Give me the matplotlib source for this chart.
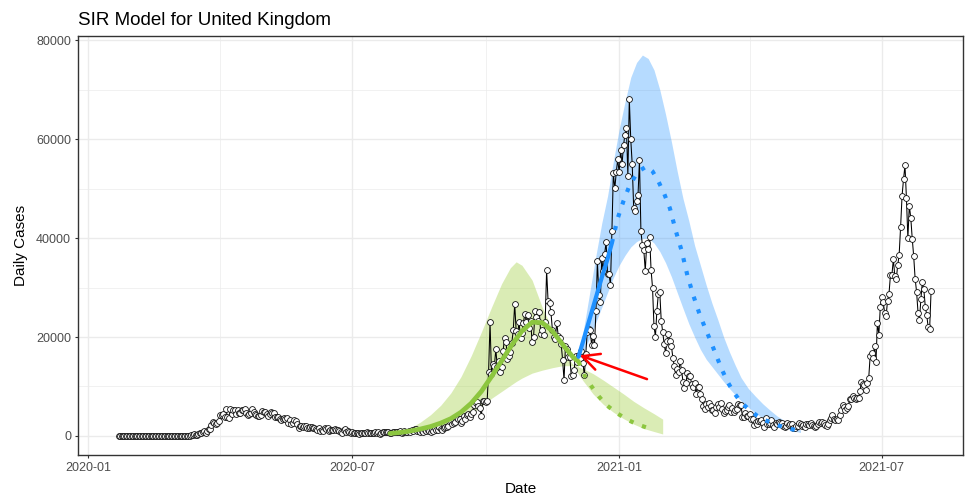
import numpy as np
import pandas as pd
import matplotlib
matplotlib.use("Agg")
import matplotlib.pyplot as plt
import matplotlib.dates as mdates

plt.rcParams['font.family'] = ['Liberation Sans', 'DejaVu Sans']

# --- reported daily cases, United Kingdom (one list per month) ---
cases_2020_01 = [0, 0, 0, 0, 0, 0, 0, 0, 0, 2]  # from 22 Jan
cases_2020_02 = [0, 0, 0, 0, 0, 0, 0, 1, 1, 4, 0, 0, 0, 0, 0, 0, 0, 0, 0, 0,
                 0, 0, 0, 4, 0, 0, 0, 2, 5]
cases_2020_03 = [13, 4, 11, 34, 30, 48, 43, 67, 48, 61, 52, 134, 117, 342, 251, 152,
                 407, 676, 643, 714, 1035, 665, 967, 1427, 1452, 2129, 2885, 2546,
                 2433, 2619, 3009]
cases_2020_04 = [4324, 4244, 4450, 3735, 5500, 3802, 3634, 5491, 4344, 5195, 5288,
                 4342, 5252, 4603, 4617, 5300, 5200, 5400, 4676, 4301, 4451, 4583,
                 5386, 4913, 4463, 4309, 3996, 4076, 4310, 5000]
cases_2020_05 = [4800, 4806, 4339, 3985, 4406, 4900, 4650, 4649, 3896, 3923, 3877,
                 3403, 3242, 3446, 3560, 3450, 3534, 2684, 3142, 2472, 2615, 3287,
                 2959, 2409, 1625, 2004, 2013, 1887, 2095, 1936, 1570]
cases_2020_06 = [1653, 1871, 1805, 1650, 1557, 1326, 1205, 1541, 1003, 1266, 1003,
                 1541, 1425, 1514, 1056, 1279, 1115, 1218, 1346, 1295, 1221, 958,
                 874, 653, 1118, 1380, 890, 901, 815, 689]
cases_2020_07 = [829, 576, 544, 624, 516, 352, 581, 630, 512, 642, 820, 650, 530,
                 598, 538, 687, 827, 580, 726, 445, 560, 769, 760, 880, 767, 743,
                 685, 581, 763, 846, 880]
cases_2020_08 = [771, 744, 938, 670, 892, 950, 871, 758, 1062, 816, 1148, 1009, 1441,
                 1440, 1012, 1040, 713, 1089, 812, 1182, 1033, 1288, 1041, 853, 1184,
                 1048, 1522, 1276, 1108, 1715, 1406]
cases_2020_09 = [1295, 1508, 1735, 1813, 1940, 2988, 2948, 2460, 2659, 2919, 3539,
                 3497, 3330, 2621, 3105, 3991, 3395, 4322, 4422, 3899, 4368, 4926,
                 6178, 6634, 6874, 6042, 5693, 4044, 7143, 7108]
cases_2020_10 = [6914, 6968, 12872, 22961, 12594, 14542, 14162, 17540, 13864, 15166,
                 12872, 13972, 17234, 19724, 18980, 15650, 16171, 16982, 18804, 21331,
                 26688, 21242, 20530, 23012, 19790, 20890, 22885, 24701, 23065, 24405,
                 21915]
cases_2020_11 = [23254, 18950, 20018, 25177, 24141, 23287, 24957, 20572, 21350, 20412,
                 22950, 33470, 27301, 26860, 24962, 21363, 20051, 19609, 22915, 20252,
                 19875, 18662, 15450, 11299, 18213, 17555, 16022, 15871, 12155, 12330]
cases_2020_12 = [13430, 16170, 14879, 16298, 15539, 17272, 14718, 12282, 16578, 20964,
                 21672, 21502, 18447, 20263, 18450, 25161, 35383, 28507, 27052, 35928,
                 33364, 36804, 39237, 32725, 32725, 30501, 41385, 53135, 50023, 53285,
                 55892]
cases_2021_01 = [53285, 57725, 54990, 58784, 60916, 62322, 52618, 68053, 59937, 54940,
                 46165, 45533, 47525, 48682, 55761, 41346, 38598, 37535, 33355, 38905,
                 37892, 40261, 33552, 30004, 22195, 20089, 25308, 28680, 29079, 23275,
                 21088]
cases_2021_02 = [18607, 16840, 19202, 20634, 19114, 18262, 15845, 14104, 12364, 13494,
                 13013, 15144, 13308, 10972, 9765, 10625, 12718, 12057, 12027, 10406,
                 9834, 10641, 8489, 9938, 9985, 8523, 7434, 6035]
cases_2021_03 = [5455, 6391, 5766, 6573, 6040, 5177, 5177, 4712, 5766, 6385, 5926,
                 6609, 5534, 4618, 5089, 5294, 5758, 6303, 4802, 5587, 4940, 5312,
                 5379, 6397, 6187, 6187, 3862, 3802, 4654, 4052, 4052]
cases_2021_04 = [4479, 3423, 3402, 2297, 2762, 2379, 3030, 2963, 3150, 2589, 1730,
                 3568, 2472, 2491, 2672, 3150, 2206, 1882, 2524, 2396, 2729, 2678,
                 2596, 2026, 1712, 2064, 2685, 2166, 2381, 2440]
cases_2021_05 = [1649, 1671, 1979, 1946, 2613, 2490, 2047, 2193, 1770, 2357, 2474,
                 2284, 2657, 2193, 1926, 1821, 1979, 2412, 2874, 2696, 2829, 2694,
                 2235, 1979, 2439, 3180, 3542, 4182, 3398, 3240, 3383]
cases_2021_06 = [3165, 4330, 5274, 6238, 5765, 5341, 5683, 6048, 7540, 7393, 8125,
                 7738, 7490, 7742, 7673, 9055, 11007, 10476, 10321, 9284, 10633, 11625,
                 16135, 16703, 15810, 18270, 14876, 22868, 20479, 26068]
cases_2021_07 = [27989, 27125, 24885, 24248, 27334, 28773, 32548, 32551, 35707, 32367,
                 31772, 34471, 36660, 42302, 48553, 51870, 54674, 48161, 39950, 46558,
                 44104, 39906, 36389, 31795, 29173, 24950, 23511, 27734, 31117, 29622,
                 26144]
cases_2021_08 = [24470, 21952, 21691, 29312]

month_starts = ["2020-01-22", "2020-02-01", "2020-03-01", "2020-04-01", "2020-05-01",
                "2020-06-01", "2020-07-01", "2020-08-01", "2020-09-01", "2020-10-01",
                "2020-11-01", "2020-12-01", "2021-01-01", "2021-02-01", "2021-03-01",
                "2021-04-01", "2021-05-01", "2021-06-01", "2021-07-01", "2021-08-01"]
month_cases = [cases_2020_01, cases_2020_02, cases_2020_03, cases_2020_04, cases_2020_05,
               cases_2020_06, cases_2020_07, cases_2020_08, cases_2020_09, cases_2020_10,
               cases_2020_11, cases_2020_12, cases_2021_01, cases_2021_02, cases_2021_03,
               cases_2021_04, cases_2021_05, cases_2021_06, cases_2021_07, cases_2021_08]

# --- SIR fits, x given as day number counted from 2020-01-01 ---
day0 = pd.Timestamp("2020-01-01")

# second wave (autumn 2020): fitted mean, then projection
wave2_fit_days = [208, 215, 222, 229, 236, 243, 250, 257, 264, 271, 278, 285, 292,
                  299, 306, 313, 320, 327, 334, 338]
wave2_fit = [500, 700, 1000, 1400, 1900, 2600, 3500, 4800, 6600, 9000, 12000, 15200,
             18400, 21200, 23000, 22900, 21200, 18500, 16000, 15000]
wave2_proj_days = [338, 342, 347, 352, 357, 364, 371, 378, 385, 390]
wave2_proj = [15000, 12300, 10000, 8000, 6300, 4700, 3400, 2400, 1700, 1400]
wave2_band_days = [208, 215, 222, 229, 236, 243, 250, 257, 264, 271, 278, 285, 291,
                   295, 299, 306, 313, 320, 327, 334, 341, 348, 355, 362, 369, 376,
                   383, 390, 396]
wave2_fast = [300, 800, 1600, 2800, 4300, 6200, 8700, 12000, 16200, 21000, 26000,
              30800, 34000, 35200, 34500, 31500, 26000, 21500, 17500, 14500, 11200,
              8500, 6400, 4800, 3500, 2400, 1500, 900, 400]
wave2_slow = [200, 350, 550, 850, 1300, 1700, 2300, 3200, 4400, 6000, 7600, 9000,
              10200, 11000, 11700, 12700, 13300, 13800, 14200, 14200, 13600, 12600,
              11300, 9900, 8500, 7000, 5700, 4500, 3400]

# third wave (winter 2020/21)
wave3_fit_days = [338, 342, 346, 350, 354, 358, 361]
wave3_fit = [16000, 20000, 24000, 28000, 32000, 35800, 39000]
wave3_proj_days = [361, 365, 369, 373, 377, 381, 385, 389, 393, 397, 401, 405, 409,
                   413, 417, 421, 425, 429, 433, 437, 441, 445, 449, 453, 457, 461,
                   465, 469, 473, 477, 481, 486, 491]
wave3_proj = [39000, 44000, 47500, 50500, 52500, 53800, 54500, 53500, 51500, 49000,
              46000, 41500, 37500, 32500, 28500, 25000, 22000, 19200, 16200, 13300,
              10800, 8800, 7200, 6000, 5000, 4100, 3400, 2900, 2500, 2000, 1600,
              1300, 1000]
wave3_band_days = [338, 342, 346, 350, 354, 358, 362, 366, 370, 374, 378, 382, 386,
                   390, 394, 398, 402, 406, 410, 414, 418, 422, 426, 430, 434, 438,
                   442, 446, 450, 455, 460, 465, 470, 475, 480, 485, 491]
wave3_upper = [16000, 22500, 29500, 36500, 43000, 48500, 55500, 62000, 67500, 72500,
               75500, 77000, 76300, 74000, 70000, 65000, 59500, 53500, 48000, 43500,
               38500, 34500, 30500, 26800, 23500, 20000, 17000, 14300, 11800, 9600,
               8000, 6500, 5200, 4000, 3100, 2300, 1200]
wave3_lower = [15500, 17500, 20000, 23000, 26000, 29000, 32000, 34500, 36500, 38200,
               39300, 39900, 40000, 39000, 37300, 35000, 32200, 29000, 25800, 22700,
               20000, 17500, 15500, 14000, 12500, 11000, 9600, 8300, 7100, 5800, 4600,
               3600, 2800, 2100, 1600, 1100, 700]

# change point marker
arrow_tip = ("2020-12-03", 16500)
arrow_tail = ("2021-01-22", 11300)


def to_dates(days):
    return day0 + pd.to_timedelta(days, unit="D")


dates = pd.DatetimeIndex(np.concatenate(
    [pd.date_range(s, periods=len(c), freq="D") for s, c in zip(month_starts, month_cases)]))
cases = np.concatenate([np.array(c, dtype=float) for c in month_cases])

green = "#8CC63F"
blue = "#1E90FF"

fig = plt.figure(figsize=(9.71, 4.97), dpi=100)
ax = fig.add_axes([78 / 971, 42 / 497, 885 / 971, 419 / 497])

# uncertainty ribbons
d2 = to_dates(wave2_band_days)
f2, s2 = np.array(wave2_fast), np.array(wave2_slow)
ax.fill_between(d2, np.minimum(f2, s2), np.maximum(f2, s2), color="#9ACD32",
                alpha=0.36, lw=0, zorder=1)
d3 = to_dates(wave3_band_days)
ax.fill_between(d3, wave3_lower, wave3_upper, color=blue, alpha=0.32, lw=0, zorder=1)

# observed cases
ax.plot(dates, cases, color="black", lw=0.75, zorder=3)
ax.plot(dates, cases, "o", ms=4.2, mfc="white", mec="#111111", mew=0.6, zorder=4)

# fitted curves and projections
ax.plot(to_dates(wave2_fit_days), wave2_fit, color=green, lw=3.4,
        solid_capstyle="round", zorder=5)
ax.plot(to_dates(wave2_proj_days), wave2_proj, color=green, lw=3.0,
        linestyle=(0, (1, 2.2)), zorder=5)
ax.plot(to_dates(wave3_fit_days), wave3_fit, color=blue, lw=3.0,
        solid_capstyle="round", zorder=5)
ax.plot(to_dates(wave3_proj_days), wave3_proj, color=blue, lw=3.0,
        linestyle=(0, (1, 2.2)), zorder=5)

ax.annotate("", xy=(pd.Timestamp(arrow_tip[0]), arrow_tip[1]),
            xytext=(pd.Timestamp(arrow_tail[0]), arrow_tail[1]),
            arrowprops=dict(arrowstyle="->,head_length=0.6,head_width=0.3",
                            color="red", lw=1.8, mutation_scale=20), zorder=6)

# scales
ax.set_xlim(pd.Timestamp("2019-12-25"), pd.Timestamp("2021-08-26"))
ymax = max(wave3_upper)
ax.set_ylim(-0.05 * ymax, 1.05 * ymax)
ax.set_yticks([0, 20000, 40000, 60000, 80000])
ax.set_yticks([10000, 30000, 50000, 70000], minor=True)
ax.xaxis.set_major_locator(mdates.MonthLocator(bymonth=[1, 7]))
ax.xaxis.set_minor_locator(mdates.MonthLocator(bymonth=[4, 10]))
ax.xaxis.set_major_formatter(mdates.DateFormatter("%Y-%m"))

# theme_bw look
ax.set_axisbelow(True)
ax.grid(which="major", color="#EBEBEB", lw=1.0)
ax.grid(which="minor", color="#EBEBEB", lw=0.5)
for sp in ax.spines.values():
    sp.set_color("#333333")
    sp.set_linewidth(1.0)
ax.tick_params(which="major", length=2.5, width=0.8, color="#333333",
               labelcolor="#4D4D4D", labelsize=9, pad=2.5)
ax.tick_params(which="minor", length=0)

ax.set_xlabel("Date", fontsize=11, labelpad=6)
ax.set_ylabel("Daily Cases", fontsize=11, labelpad=6)
ax.set_title("SIR Model for United Kingdom", loc="left", fontsize=13.5, pad=8)

fig.savefig("out.png", dpi=100)
